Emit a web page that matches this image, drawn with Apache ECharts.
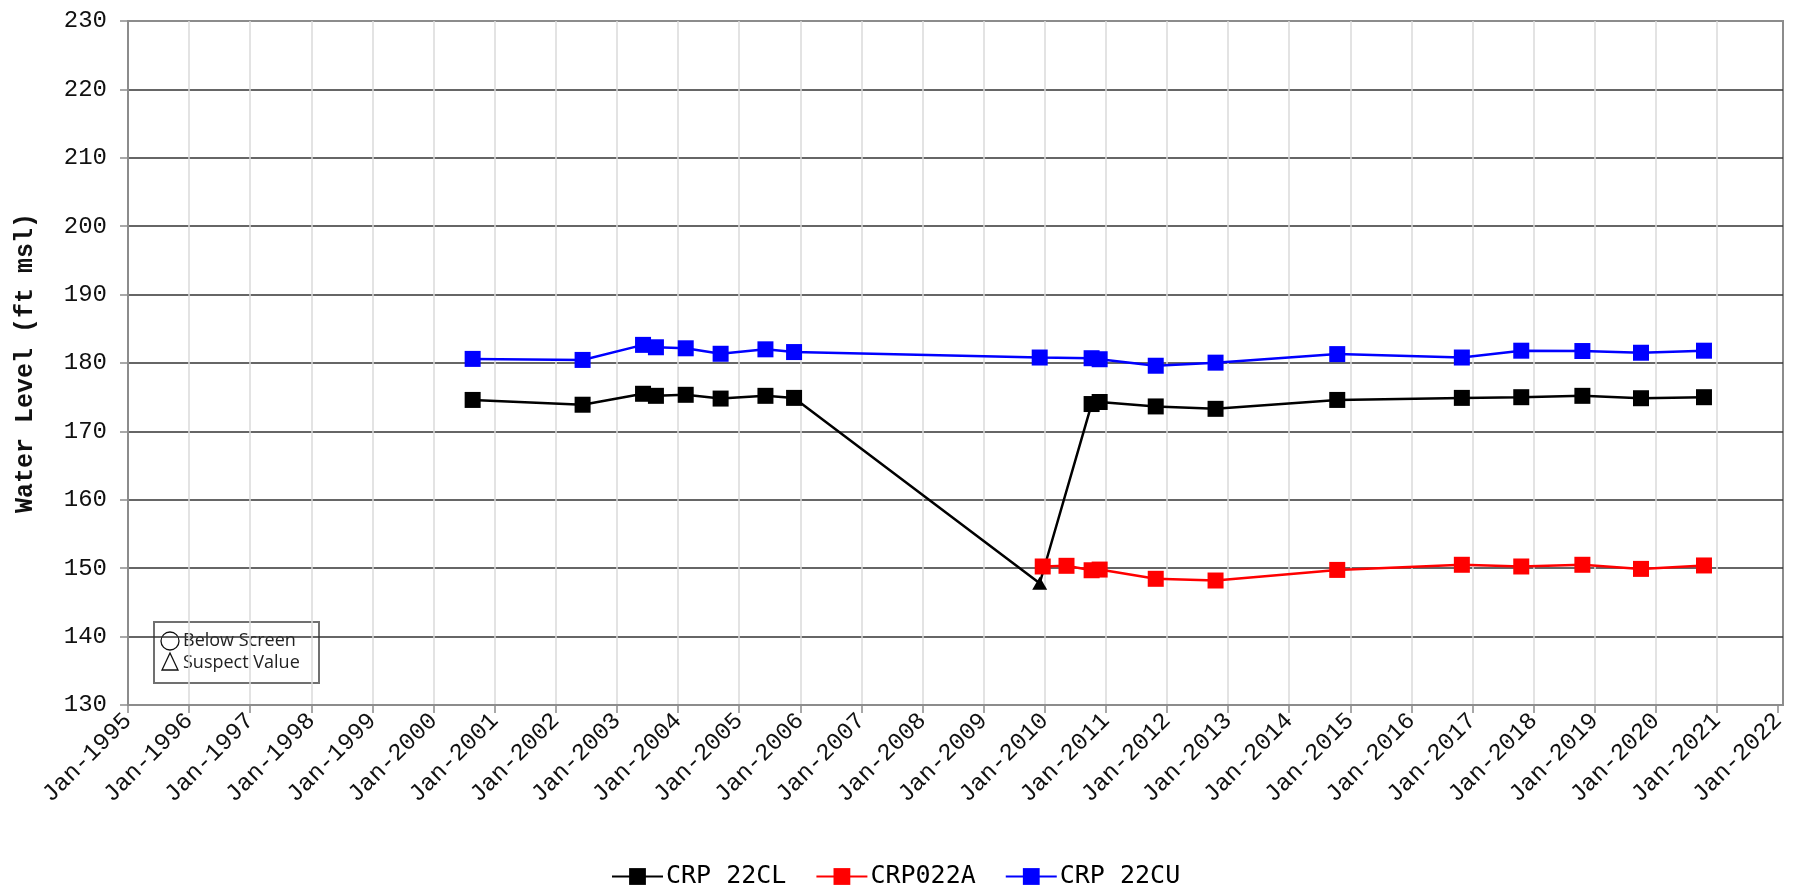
<!DOCTYPE html>
<html>
<head>
<meta charset="utf-8">
<script src="https://cdn.jsdelivr.net/npm/echarts@6/dist/echarts.min.js"></script>
<style>
html,body{margin:0;padding:0;background:#fff;}
#chart{width:1802px;height:886px;}
</style>
</head>
<body>
<div id="chart"></div>
<script>
// ---- Data ----
const seriesNames = ['CRP 22CL', 'CRP022A', 'CRP 22CU'];
const seriesColors = ['#000000', '#ff0000', '#0000ff'];

const datesCL = ['2000-08-22','2002-06-10','2003-06-06','2003-08-22','2004-02-16','2004-09-12','2005-06-07','2005-11-25','2009-12-02','2010-10-08','2010-11-25','2011-10-26','2012-10-18','2014-10-15','2016-10-29','2017-10-19','2018-10-19','2019-10-04','2020-10-15'];
const valuesCL = [174.6,173.9,175.5,175.2,175.35,174.8,175.2,174.9,147.8,174.0,174.3,173.65,173.3,174.6,174.9,175.0,175.2,174.85,175.0];
const suspectCL = ['2009-12-02'];

const dates022A = ['2009-12-20','2010-05-11','2010-10-08','2010-11-25','2011-10-26','2012-10-18','2014-10-15','2016-10-29','2017-10-19','2018-10-19','2019-10-04','2020-10-15'];
const values022A = [150.25,150.35,149.7,149.8,148.45,148.2,149.75,150.5,150.25,150.5,149.9,150.4];

const datesCU = ['2000-08-22','2002-06-10','2003-06-06','2003-08-22','2004-02-16','2004-09-12','2005-06-07','2005-11-25','2009-12-02','2010-10-08','2010-11-25','2011-10-26','2012-10-18','2014-10-15','2016-10-29','2017-10-19','2018-10-19','2019-10-04','2020-10-15'];
const valuesCU = [180.6,180.45,182.65,182.3,182.15,181.35,182.0,181.6,180.8,180.7,180.55,179.6,180.05,181.3,180.8,181.8,181.75,181.5,181.8];

const tickYears = [1995,1996,1997,1998,1999,2000,2001,2002,2003,2004,2005,2006,2007,2008,2009,2010,2011,2012,2013,2014,2015,2016,2017,2018,2019,2020,2021,2022];
const yTicks = [130,140,150,160,170,180,190,200,210,220,230];
const yAxisName = 'Water Level (ft msl)';
const noteLabels = ['Below Screen', 'Suspect Value'];

// ---- helpers ----
function decYear(s) {
  const [y, m, d] = s.split('-').map(Number);
  const start = Date.UTC(y, 0, 1), end = Date.UTC(y + 1, 0, 1);
  return y + (Date.UTC(y, m - 1, d) - start) / (end - start);
}
function build(dates, vals, suspect) {
  return dates.map((d, i) => {
    const item = { value: [decYear(d), vals[i]] };
    if (suspect && suspect.indexOf(d) >= 0) {
      item.symbol = 'triangle';
      item.symbolSize = [15, 13];
    }
    return item;
  });
}

const chart = echarts.init(document.getElementById('chart'), null, { renderer: 'canvas' });

const mono = "'Liberation Mono', 'Courier New', monospace";
const gridL = 128, gridT = 21, gridR = 19, gridB = 181;

function mkSeries(idx, dates, vals, suspect) {
  return {
    name: seriesNames[idx],
    type: 'line',
    data: build(dates, vals, suspect),
    symbol: 'rect',
    symbolSize: 16,
    color: seriesColors[idx],
    lineStyle: { color: seriesColors[idx], width: 2.5 },
    itemStyle: { color: seriesColors[idx] },
    emphasis: { disabled: true },
    z: 3
  };
}

const option = {
  animation: false,
  backgroundColor: '#fff',
  grid: {
    left: gridL, top: gridT, right: gridR, bottom: gridB,
    show: true, borderColor: '#8c8c8c', borderWidth: 2, backgroundColor: 'transparent'
  },
  legend: {
    data: seriesNames,
    left: 606, top: 859,
    itemWidth: 51, itemHeight: 21, itemGap: 29,
    textStyle: { fontFamily: "'DejaVu Sans Mono', monospace", fontSize: 25, color: '#000', padding: [0,0,0,-2] },
    selectedMode: false
  },
  xAxis: {
    type: 'value',
    min: 1995, max: 2022.08, interval: 1,
    axisLine: { show: true, lineStyle: { color: '#8c8c8c', width: 2 } },
    axisTick: { show: true, length: 8, customValues: tickYears, lineStyle: { color: '#8c8c8c', width: 1.5 } },
    axisLabel: {
      customValues: tickYears,
      rotate: 45, margin: 12,
      fontFamily: mono, fontSize: 24, color: '#111',
      formatter: v => 'Jan-' + Math.round(v)
    },
    splitLine: { show: true, showMinLine: false, showMaxLine: false, lineStyle: { color: '#dadada', width: 1.5 } }
  },
  yAxis: {
    type: 'value',
    min: yTicks[0], max: yTicks[yTicks.length - 1], interval: 10,
    name: yAxisName, nameLocation: 'middle', nameGap: 90,
    nameTextStyle: { fontFamily: mono, fontSize: 25, fontWeight: 'bold', color: '#111' },
    axisLine: { show: true, lineStyle: { color: '#8c8c8c', width: 2 } },
    axisTick: { show: true, length: 8, lineStyle: { color: '#8c8c8c', width: 1.5 } },
    axisLabel: { margin: 21, fontFamily: mono, fontSize: 24, color: '#111' },
    splitLine: { show: true, showMinLine: false, showMaxLine: false, lineStyle: { color: '#333', width: 1.5 } }
  },
  series: [
    mkSeries(0, datesCL, valuesCL, suspectCL),
    mkSeries(1, dates022A, values022A),
    mkSeries(2, datesCU, valuesCU)
  ],
  graphic: [{
    type: 'group', left: 153, top: 621, z: 100,
    children: [
      { type: 'rect', shape: { x: 0, y: 0, width: 165, height: 61 }, style: { fill: '#fff', stroke: '#707070', lineWidth: 2 } },
      { type: 'circle', shape: { cx: 16, cy: 19, r: 9 }, style: { fill: 'none', stroke: '#111', lineWidth: 1.3 } },
      { type: 'polygon', shape: { points: [[16, 31], [8, 48], [24, 48]] }, style: { fill: 'none', stroke: '#111', lineWidth: 1.3 } },
      { type: 'text', x: 29, y: 19, style: { text: noteLabels[0], fontFamily: "'Open Sans', sans-serif", fontSize: 18, fill: '#222', verticalAlign: 'middle' } },
      { type: 'text', x: 29, y: 41, style: { text: noteLabels[1], fontFamily: "'Open Sans', sans-serif", fontSize: 18, fill: '#222', verticalAlign: 'middle' } }
    ]
  }]
};

chart.setOption(option);
</script>
</body>
</html>
